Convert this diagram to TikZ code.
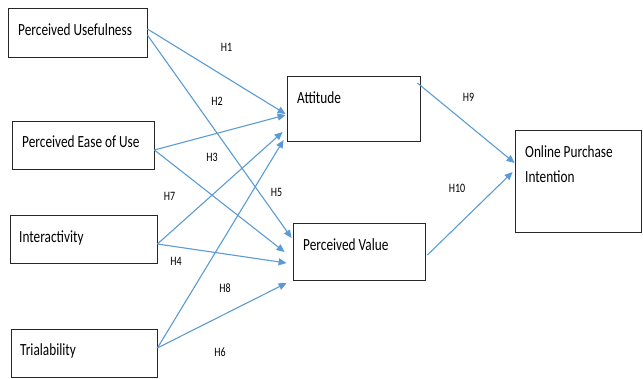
\documentclass[tikz,border=0pt]{standalone}
\usepackage{fontspec}
\setmainfont{Carlito}
\usetikzlibrary{arrows.meta,calc}
\newcommand{\vstr}[1]{\scalebox{1}[1.28]{#1}}
\begin{document}
\begin{tikzpicture}[x=1pt,y=-1pt,
  box/.style={draw=black!85,line width=0.8pt,rectangle,inner sep=0pt},
  boxtext/.style={anchor=base west,inner sep=0pt,font=\fontsize{13.3}{20.3}\selectfont},
  hyp/.style={anchor=center,inner sep=0pt,font=\fontsize{10}{12}\selectfont},
  link/.style={draw={rgb,255:red,91;green,155;blue,213},line width=1.1pt,
    -{Triangle[length=8pt,width=7pt]}}]
\useasboundingbox (0,0) rectangle (643,378);
% boxes
\node[box,minimum width=139pt,minimum height=49pt] (pu) at (77.5,32.5) {};
\node[box,minimum width=142pt,minimum height=48pt] (peou) at (83,145) {};
\node[box,minimum width=147pt,minimum height=48pt] (int) at (83.5,239) {};
\node[box,minimum width=146pt,minimum height=48pt] (tri) at (84,353) {};
\node[box,minimum width=133pt,minimum height=65pt] (att) at (353.5,108.5) {};
\node[box,minimum width=132pt,minimum height=57pt] (pv) at (359,251.5) {};
\node[box,minimum width=126pt,minimum height=102pt] (opi) at (578,181) {};
% texts
\node[boxtext] (tpu) at (18,35) {\vstr{Perceived Usefulness}};
\node[boxtext] (tpeou) at (22,147) {\vstr{Perceived Ease of Use}};
\node[boxtext] (tint) at (19,242) {\vstr{Interactivity}};
\node[boxtext] (ttri) at (20,355) {\vstr{Trialability}};
\node[boxtext] (tatt) at (297,103) {\vstr{Attitude}};
\node[boxtext] (tpv) at (303,250) {\vstr{Perceived Value}};
\node[boxtext] (topi) at (525,157) {\vstr{\begin{tabular}[t]{@{}l@{}}Online Purchase\\Intention\end{tabular}}};
% connectors
\draw[link] ($(pu.east)+(0,-3.5)$) -- ($(att.west)+(-1,5.5)$);
\draw[link] ($(pu.east)+(0,2.5)$) -- ($(pv.west)+(-1,-13.5)$);
\draw[link] ($(peou.east)+(0,5)$) -- ($(att.west)+(-1,6.5)$);
\draw[link] ($(peou.east)+(0,5)$) -- ($(pv.west)+(-8,0.5)$);
\draw[link] ($(int.east)+(0,5)$) -- ($(att.west)+(-4,23.5)$);
\draw[link] ($(int.east)+(0,5)$) -- ($(pv.west)+(-6,11.5)$);
\draw[link] ($(tri.east)+(0,-5)$) -- ($(att.west)+(-3,31.5)$);
\draw[link] ($(tri.east)+(0,-5)$) -- ($(pv.west)+(-6,31.5)$);
\draw[link] ($(att.east)+(-3,-25.5)$) -- ($(opi.west)+(0,-18)$);
\draw[link] ($(pv.east)+(2,3.5)$) -- ($(opi.west)+(-2,-9)$);
% hypothesis labels
\node[hyp] (h1) at (226.5,47) {\vstr{H1}};
\node[hyp] (h2) at (217,101.5) {\vstr{H2}};
\node[hyp] (h3) at (212,157.5) {\vstr{H3}};
\node[hyp] (h7) at (169.5,196) {\vstr{H7}};
\node[hyp] (h5) at (276.5,192) {\vstr{H5}};
\node[hyp] (h4) at (176,261.5) {\vstr{H4}};
\node[hyp] (h8) at (225,288) {\vstr{H8}};
\node[hyp] (h6) at (220,352) {\vstr{H6}};
\node[hyp] (h9) at (468.5,97.5) {\vstr{H9}};
\node[hyp] (h10) at (457,188) {\vstr{H10}};
\end{tikzpicture}
\end{document}
